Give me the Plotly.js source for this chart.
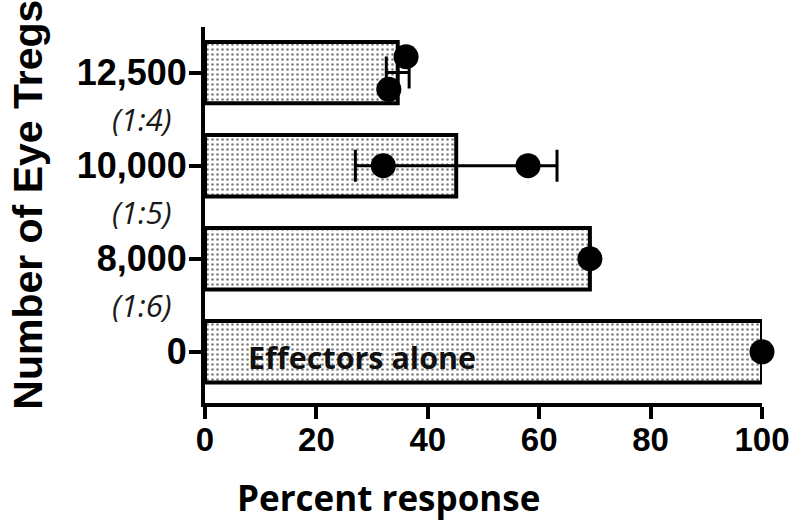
<!DOCTYPE html>
<html>
<head>
<meta charset="utf-8">
<script src="https://cdn.plot.ly/plotly-3.0.1.min.js"></script>
<style>html,body{margin:0;padding:0;background:#fff;}#chart{width:790px;height:525px;}</style>
</head>
<body>
<div id="chart"></div>
<script>
// ---- data ----
var categories = ['0', '8,000', '10,000', '12,500'];
var ratioLabels = ['', '(1:6)', '(1:5)', '(1:4)'];
var meanResponse = [100, 69.1, 45.1, 34.6];
var semResponse = [null, null, 18.1, 2.05];
var pointCategory = ['0', '8,000', '10,000', '10,000', '12,500', '12,500'];
var pointResponse = [100, 69.1, 32.0, 58.0, 36.1, 33.0];
var xTicks = [0, 20, 40, 60, 80, 100];
var barNote = 'Effectors alone';
var xTitle = 'Percent response';
var yTitle = 'Number of Eye Tregs';

// ---- build ----
var catIndex = categories.map(function (c, i) { return i; });
var ptY = [];
// spread near-identical replicate points vertically so both are visible
pointCategory.forEach(function (c, i) {
  var base = categories.indexOf(c);
  var off = 0;
  pointCategory.forEach(function (c2, j) {
    if (j !== i && c2 === c && Math.abs(pointResponse[j] - pointResponse[i]) < 10) {
      off = pointResponse[i] > pointResponse[j] ? 0.17 : -0.18;
    }
  });
  ptY.push(base + off);
});

var FONT_B = 'Liberation Sans, Arial, sans-serif';
var FONT_C = 'Open Sans, Lato, sans-serif';

var bars = {
  type: 'bar', orientation: 'h',
  x: meanResponse, y: catIndex, width: 0.66,
  marker: {
    color: 'white',
    line: {color: 'black', width: 4},
    pattern: {shape: '.', fgcolor: 'black', bgcolor: 'white', size: 5, solidity: 0.22, fillmode: 'overlay'}
  },
  error_x: {type: 'data', array: semResponse, visible: true, color: 'black', thickness: 3, width: 16},
  hoverinfo: 'none', showlegend: false
};
var pts = {
  type: 'scatter', mode: 'markers',
  x: pointResponse, y: ptY,
  marker: {color: 'black', size: 25, line: {width: 0}},
  cliponaxis: false, hoverinfo: 'none', showlegend: false
};

var annotations = [];
ratioLabels.forEach(function (r, i) {
  if (!r) return;
  annotations.push({
    xref: 'paper', yref: 'y', x: -0.113, y: i - 0.5, text: '<i>' + r + '</i>',
    showarrow: false, xanchor: 'center', yanchor: 'middle',
    font: {family: FONT_C, size: 31, color: '#1a1a1a'}
  });
});
annotations.push({
  xref: 'x', yref: 'y', x: 7.3, y: 0, text: '<b>' + barNote + '</b>',
  showarrow: false, xanchor: 'left', yanchor: 'middle', yshift: -5,
  font: {family: FONT_C, size: 30.5, color: '#111'}
});
annotations.push({
  xref: 'paper', yref: 'paper', x: 0.33, y: -0.25, yanchor: 'middle', xanchor: 'center',
  text: '<b>' + xTitle + '</b>', showarrow: false, font: {family: FONT_C, size: 35, color: 'black'}
});
annotations.push({
  xref: 'paper', yref: 'paper', x: -0.318, y: 0.527, xanchor: 'center', yanchor: 'middle', textangle: -90,
  text: '<b>' + yTitle + '</b>', showarrow: false, font: {family: FONT_B, size: 41, color: 'black'}
});

var layout = {
  width: 790, height: 525,
  margin: {l: 205, r: 28, t: 27, b: 122},
  paper_bgcolor: 'white', plot_bgcolor: 'white',
  xaxis: {
    range: [0, 100], tickvals: xTicks, ticktext: xTicks.map(String),
    showline: true, linewidth: 4, linecolor: 'black',
    ticks: 'outside', ticklen: 12, tickwidth: 4, tickcolor: 'black',
    ticklabelstandoff: -8,
    showgrid: false, zeroline: false,
    tickfont: {family: FONT_B, size: 33, color: 'black', weight: 'bold'}
  },
  yaxis: {
    range: [-0.55, 3.49], tickvals: catIndex, ticktext: categories.map(function (c) { return '<b>' + c + '</b>'; }),
    showline: true, linewidth: 4, linecolor: 'black',
    ticks: 'outside', ticklen: 12, tickwidth: 4, tickcolor: 'black',
    ticklabelstandoff: -5,
    showgrid: false, zeroline: false,
    tickfont: {family: FONT_B, size: 36, color: 'black'}
  },
  annotations: annotations
};

Plotly.newPlot('chart', [bars, pts], layout, {staticPlot: true});
</script>
</body>
</html>
